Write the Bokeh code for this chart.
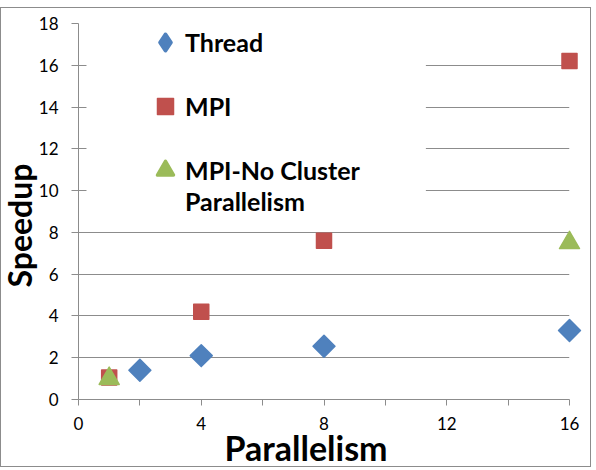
from math import pi
import numpy as np
from bokeh.plotting import figure
from bokeh.models import (Range1d, FixedTicker, Legend, LegendItem, Title, BoxAnnotation)
from bokeh.embed import file_html
from bokeh.resources import INLINE

# ---- data ----
thread_x = [2, 4, 8, 16]
thread_y = [1.4, 2.1, 2.55, 3.3]
mpi_x = [1, 4, 8, 16]
mpi_y = [1.05, 4.2, 7.6, 16.2]
nocl_x = [1, 16]
nocl_y = [1.0, 7.5]
x_ticks = [0, 4, 8, 12, 16]
x_minor = [2, 6, 10, 14]
y_ticks = [0, 2, 4, 6, 8, 10, 12, 14, 16, 18]

FONT = "Lato"
GRAY = "#8c8c8c"
BLUE, RED, GREEN = "#4F81BD", "#C0504D", "#9BBB59"

p = figure(width=591, height=460, x_range=Range1d(0, 16), y_range=Range1d(0, 18),
           output_backend="svg", toolbar_location=None,
           min_border_left=76, min_border_right=23, min_border_top=15, min_border_bottom=69,
           styles={"margin-top": "7px", "border": "1px solid #8c8c8c"})
p.outline_line_color = None
p.background_fill_color = "white"
p.border_fill_color = "white"

p.xgrid.visible = False
p.ygrid.grid_line_color = GRAY
p.ygrid.ticker = FixedTicker(ticks=y_ticks)

p.xaxis.ticker = FixedTicker(ticks=x_ticks, minor_ticks=x_minor)
p.yaxis.ticker = FixedTicker(ticks=y_ticks)
for ax in (p.xaxis[0], p.yaxis[0]):
    ax.axis_line_color = GRAY
    ax.major_tick_line_color = GRAY
    ax.minor_tick_line_color = GRAY
    ax.major_tick_in = 0
    ax.minor_tick_in = 0
    ax.major_label_text_font = FONT
    ax.major_label_text_font_size = "17px"
    ax.major_label_text_color = "black"
p.xaxis.major_tick_out = 6
p.xaxis.minor_tick_out = 6
p.yaxis.major_tick_out = 7
p.yaxis.minor_tick_out = 0
p.yaxis.major_label_standoff = 13
p.xaxis.major_label_standoff = 11

# legend backdrop hiding the gridlines
p.add_layout(BoxAnnotation(left=0.26, right=11.32, bottom=8.33, top=17.94,
                           fill_color="white", fill_alpha=1, line_color=None))

r_thread = p.scatter(thread_x, thread_y, marker="square", angle=pi / 4, size=15.5,
                     fill_color=BLUE, line_color=BLUE, line_width=1.5, line_join="round",
                     level="overlay")
r_mpi = p.scatter(mpi_x, mpi_y, marker="square", size=15,
                  fill_color=RED, line_color=RED, line_width=1.5, line_join="round",
                  level="overlay")
r_nocl = p.scatter(nocl_x, nocl_y, marker="triangle", size=20,
                   fill_color=GREEN, line_color=GREEN, line_width=1.5, line_join="round",
                   level="overlay")
# legend-only symbol proxies (a single undefined point, never drawn in the plot)
nan = np.array([np.nan])
k_thread = p.scatter(x=nan, y=nan, marker="diamond", fill_color=BLUE, line_color=BLUE,
                     line_width=4, line_join="round")
k_nocl = p.scatter(x=nan, y=nan, marker="triangle", fill_color=GREEN, line_color=GREEN,
                   line_width=3.5, line_join="round")

common = dict(padding=0, margin=0, label_standoff=0, label_text_font=FONT,
              label_text_font_style="bold", label_text_font_size="25px",
              label_text_color="black", background_fill_alpha=0, border_line_alpha=0)
legend = Legend(items=[
    LegendItem(label="Thread", renderers=[k_thread]),
    LegendItem(label="MPI", renderers=[r_mpi]),
    LegendItem(label="MPI-No Cluster", renderers=[k_nocl]),
], location=(67, 207), glyph_width=40, glyph_height=44, spacing=20, **common)
legend2 = Legend(items=[LegendItem(label="Parallelism", renderers=[])],
                 location=(67, 182), glyph_width=40, glyph_height=32, spacing=0, **common)
p.add_layout(legend, "center")
p.add_layout(legend2, "center")

p.add_layout(Title(text="Parallelism", align="left", offset=146, standoff=-16,
                   text_font=FONT, text_font_style="bold", text_font_size="34px",
                   text_color="black"), "below")
p.add_layout(Title(text="Speedup", align="left", offset=112, standoff=-7,
                   text_font=FONT, text_font_style="bold", text_font_size="32px",
                   text_color="black"), "left")

open("out.html", "w").write(file_html(p, INLINE))
